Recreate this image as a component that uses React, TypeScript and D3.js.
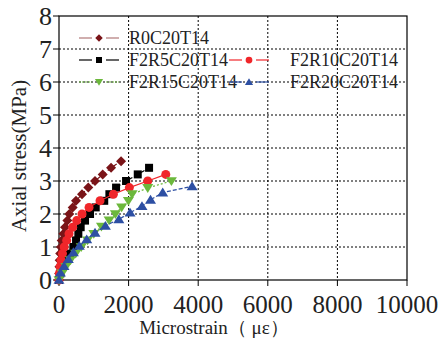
import React from "react";
import * as d3 from "d3";

const xTicks = [0, 2000, 4000, 6000, 8000, 10000];
const yTicks = [0, 1, 2, 3, 4, 5, 6, 7, 8];

const r0Strain = [0, 5, 12, 20, 35, 55, 77, 125, 172, 240, 297, 393, 489, 661, 843, 1035, 1256, 1496, 1783];
const r0Stress = [0, 0.2, 0.4, 0.6, 0.8, 1.0, 1.2, 1.4, 1.6, 1.8, 2.0, 2.2, 2.4, 2.6, 2.8, 3.0, 3.2, 3.4, 3.6];

const r5Strain = [0, 40, 110, 200, 316, 412, 490, 556, 623, 748, 892, 1055, 1300, 1448, 1640, 1927, 2263, 2588];
const r5Stress = [0, 0.2, 0.4, 0.6, 0.8, 1.0, 1.2, 1.4, 1.6, 1.8, 2.0, 2.2, 2.4, 2.6, 2.8, 3.0, 3.2, 3.4];

const r10Strain = [0, 10, 30, 60, 100, 150, 220, 288, 393, 508, 661, 863, 1179, 1563, 2022, 2550, 3068];
const r10Stress = [0, 0.2, 0.4, 0.6, 0.8, 1.0, 1.2, 1.4, 1.6, 1.8, 2.0, 2.2, 2.4, 2.6, 2.8, 3.0, 3.2];

const r15Strain = [0, 90, 200, 330, 480, 640, 820, 1000, 1220, 1440, 1620, 1800, 1994, 2100, 2550, 3230];
const r15Stress = [0, 0.2, 0.4, 0.6, 0.8, 1.0, 1.2, 1.4, 1.62, 1.81, 2.0, 2.2, 2.4, 2.6, 2.79, 3.0];

const r20Strain = [0, 40, 144, 268, 412, 584, 796, 1035, 1333, 1720, 2042, 2385, 2630, 2980, 3825];
const r20Stress = [0, 0.22, 0.42, 0.63, 0.84, 1.03, 1.23, 1.43, 1.64, 1.84, 2.04, 2.24, 2.43, 2.65, 2.84];

const seriesNames = ["R0C20T14", "F2R5C20T14", "F2R10C20T14", "F2R15C20T14", "F2R20C20T14"];

type Series = {
  name: string;
  xs: number[];
  ys: number[];
  color: string;
  legendLine: string;
  dash: string;
  marker: string;
};

const series: Series[] = [
  { name: seriesNames[0], xs: r0Strain, ys: r0Stress, color: "#7a1418", legendLine: "#b07878", dash: "4,3", marker: "diamond" },
  { name: seriesNames[1], xs: r5Strain, ys: r5Stress, color: "#000000", legendLine: "#000000", dash: "4,3", marker: "square" },
  { name: seriesNames[2], xs: r10Strain, ys: r10Stress, color: "#f0262a", legendLine: "#f0262a", dash: "", marker: "circle" },
  { name: seriesNames[3], xs: r15Strain, ys: r15Stress, color: "#6cb83c", legendLine: "#6cb83c", dash: "2,2", marker: "triangleDown" },
  { name: seriesNames[4], xs: r20Strain, ys: r20Stress, color: "#2d4fa3", legendLine: "#2d4fa3", dash: "4,2", marker: "triangleUp" },
];

const W = 445;
const H = 342;
const L = 59;
const R = 407;
const T = 16;
const B = 280;

function Marker({ type, x, y, color }: { type: string; x: number; y: number; color: string }) {
  if (type === "diamond") {
    const s = 5;
    return <path d={`M${x},${y - s}L${x + s},${y}L${x},${y + s}L${x - s},${y}Z`} fill={color} />;
  }
  if (type === "square") {
    const s = 4;
    return <rect x={x - s} y={y - s} width={2 * s} height={2 * s} fill={color} />;
  }
  if (type === "circle") {
    return <circle cx={x} cy={y} r={4.5} fill={color} />;
  }
  if (type === "triangleDown") {
    const s = 5.5;
    return <path d={`M${x - s},${y - s * 0.7}L${x + s},${y - s * 0.7}L${x},${y + s * 0.9}Z`} fill={color} />;
  }
  const s = 5.5;
  return <path d={`M${x - s},${y + s * 0.7}L${x + s},${y + s * 0.7}L${x},${y - s * 0.9}Z`} fill={color} />;
}

export default function App() {
  const x = d3.scaleLinear().domain([0, 10000]).range([L, R]);
  const y = d3.scaleLinear().domain([0, 8]).range([B, T]);
  const line = d3
    .line<[number, number]>()
    .x((d) => x(d[0]))
    .y((d) => y(d[1]));

  const font = "'Liberation Serif', 'DejaVu Serif', serif";

  const legendPos = [
    { lx: 79, tx: 129, y: 38 },
    { lx: 79, tx: 129, y: 60 },
    { lx: 229, tx: 290, y: 60 },
    { lx: 79, tx: 129, y: 82 },
    { lx: 229, tx: 290, y: 82 },
  ];

  return (
    <svg width={W} height={H} style={{ position: "absolute", left: 0, top: 0, background: "#fff" }} fontFamily={font}>
      {/* grid */}
      {xTicks.slice(1, -1).map((t) => (
        <line key={"gx" + t} x1={x(t)} x2={x(t)} y1={T} y2={B} stroke="#000" strokeWidth={1} strokeDasharray="2,2" />
      ))}
      {yTicks.slice(1, -1).map((t) => (
        <line key={"gy" + t} x1={L} x2={R} y1={y(t)} y2={y(t)} stroke="#000" strokeWidth={1} strokeDasharray="2,2" />
      ))}
      {/* frame */}
      <rect x={L} y={T} width={R - L} height={B - T} fill="none" stroke="#000" strokeWidth={1.2} />
      {/* ticks */}
      {xTicks.map((t) => (
        <g key={"xt" + t}>
          <line x1={x(t)} x2={x(t)} y1={B} y2={B + 6} stroke="#000" strokeWidth={1} />
          <text x={x(t)} y={313} fontSize={25} textAnchor="middle" fill="#222">
            {t}
          </text>
        </g>
      ))}
      {yTicks.map((t) => (
        <g key={"yt" + t}>
          <line x1={L - 6} x2={L} y1={y(t)} y2={y(t)} stroke="#000" strokeWidth={1} />
          <text x={52} y={y(t) + 9} fontSize={26} textAnchor="end" fill="#222">
            {t}
          </text>
        </g>
      ))}
      {/* titles */}
      <text x={214} y={334} fontSize={19} textAnchor="middle" fill="#222">
        Microstrain（ με）
      </text>
      <text transform={`translate(26,156) rotate(-90)`} fontSize={21} textAnchor="middle" fill="#222">
        Axial stress(MPa)
      </text>
      {/* data */}
      {series.map((s) => {
        const pts: [number, number][] = s.xs.map((v, i) => [v, s.ys[i]]);
        return (
          <g key={s.name}>
            <path d={line(pts) || ""} fill="none" stroke={s.color} strokeWidth={1.2} strokeDasharray={s.dash || undefined} />
            {pts.map((p, i) => (
              <Marker key={i} type={s.marker} x={x(p[0])} y={y(p[1])} color={s.color} />
            ))}
          </g>
        );
      })}
      {/* legend */}
      {series.map((s, i) => {
        const p = legendPos[i];
        return (
          <g key={"lg" + s.name}>
            <line x1={p.lx} x2={p.lx + 13} y1={p.y} y2={p.y} stroke={s.legendLine} strokeWidth={1.2} strokeDasharray={s.marker === "triangleDown" ? "2,1" : undefined} />
            <line x1={p.lx + 27} x2={p.lx + 40} y1={p.y} y2={p.y} stroke={s.legendLine} strokeWidth={1.2} strokeDasharray={s.marker === "triangleDown" ? "2,1" : undefined} />
            <g transform={`translate(${p.lx + 20},${p.y}) scale(0.75) translate(${-(p.lx + 20)},${-p.y})`}>
              <Marker type={s.marker} x={p.lx + 20} y={p.y} color={s.color} />
            </g>
            <text x={p.tx} y={p.y + 6} fontSize={18} fill="#222">
              {s.name}
            </text>
          </g>
        );
      })}
    </svg>
  );
}
